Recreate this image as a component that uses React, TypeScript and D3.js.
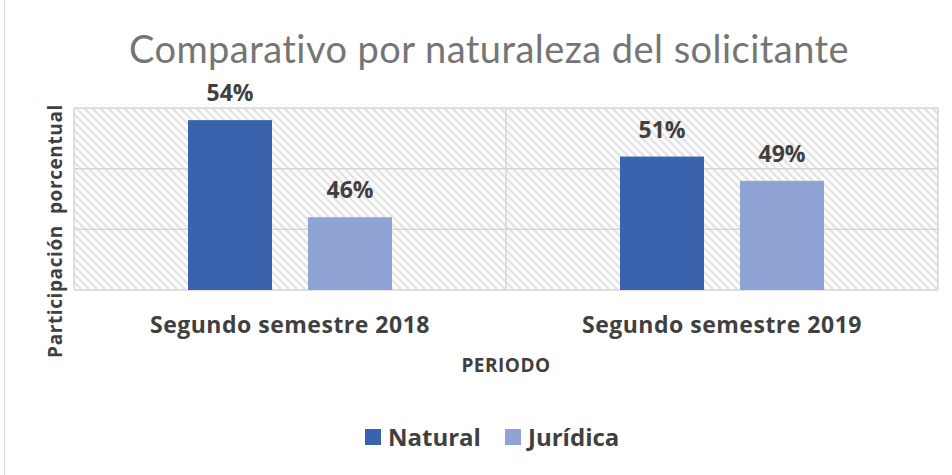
import React, { useEffect, useRef } from 'react';
import * as d3 from 'd3';

const periods = ['Segundo semestre 2018', 'Segundo semestre 2019'];
const seriesNames = ['Natural', 'Jurídica'];
const natural = [0.54, 0.51];
const juridica = [0.46, 0.49];
const yTicks = [0.4, 0.45, 0.5, 0.55];
const colors = ['#3a62ad', '#8fa3d5'];

const W = 952;
const H = 475;
const margin = { left: 74, right: 14, top: 108, bottom: 185 };
const textColor = '#404040';
const boldFont = '"Open Sans", Lato, sans-serif';
const titleFont = 'Lato, "Open Sans", sans-serif';

export default function App() {
  const ref = useRef<SVGSVGElement>(null);

  useEffect(() => {
    const svg = d3.select(ref.current);
    svg.selectAll('*').remove();

    const x0 = d3.scaleBand().domain(periods).range([margin.left, W - margin.right]);
    const x1 = d3.scaleBand().domain(seriesNames).range([0, x0.bandwidth()]).paddingInner(0.3).paddingOuter(0.95);
    const y = d3.scaleLinear().domain([0.4, 0.55]).range([H - margin.bottom, margin.top]);

    const defs = svg.append('defs');
    const pat = defs.append('pattern')
      .attr('id', 'hatch')
      .attr('patternUnits', 'userSpaceOnUse')
      .attr('width', 8)
      .attr('height', 8);
    pat.append('rect').attr('width', 8).attr('height', 8).attr('fill', '#fcfcfc');
    pat.append('path')
      .attr('d', 'M-2,-2 L10,10 M-2,6 L2,10 M6,-2 L10,2')
      .attr('stroke', '#e2e2e2')
      .attr('stroke-width', 2);

    // outer border line on the left
    svg.append('line')
      .attr('x1', 4.5).attr('x2', 4.5).attr('y1', 0).attr('y2', H)
      .attr('stroke', '#d9d9d9');

    // plot background
    svg.append('rect')
      .attr('x', margin.left)
      .attr('y', margin.top)
      .attr('width', W - margin.left - margin.right)
      .attr('height', H - margin.top - margin.bottom)
      .attr('fill', 'url(#hatch)');

    // gridlines
    svg.append('g')
      .selectAll('line')
      .data(yTicks)
      .join('line')
      .attr('x1', margin.left)
      .attr('x2', W - margin.right)
      .attr('y1', (d) => y(d))
      .attr('y2', (d) => y(d))
      .attr('stroke', '#d6d6d6')
      .attr('stroke-width', 1.5);

    // vertical borders / separators
    const vx = [margin.left, x0(periods[1]) as number, W - margin.right];
    svg.append('g')
      .selectAll('line')
      .data(vx)
      .join('line')
      .attr('x1', (d) => d)
      .attr('x2', (d) => d)
      .attr('y1', margin.top)
      .attr('y2', H - margin.bottom)
      .attr('stroke', '#d6d6d6')
      .attr('stroke-width', 1.5);

    const rows = periods.map((p, i) => ({ p, vals: [natural[i], juridica[i]] }));

    const groups = svg.append('g')
      .selectAll('g')
      .data(rows)
      .join('g')
      .attr('transform', (d) => `translate(${x0(d.p)},0)`);

    groups.selectAll('rect')
      .data((d) => d.vals.map((v, j) => ({ v, s: seriesNames[j], j })))
      .join('rect')
      .attr('x', (d) => x1(d.s) as number)
      .attr('width', x1.bandwidth())
      .attr('y', (d) => y(d.v))
      .attr('height', (d) => y(0.4) - y(d.v))
      .attr('fill', (d) => colors[d.j]);

    groups.selectAll('text.val')
      .data((d) => d.vals.map((v, j) => ({ v, s: seriesNames[j] })))
      .join('text')
      .attr('class', 'val')
      .attr('x', (d) => (x1(d.s) as number) + x1.bandwidth() / 2)
      .attr('y', (d) => y(d.v) - 19)
      .attr('text-anchor', 'middle')
      .attr('font-family', boldFont)
      .attr('font-weight', 'bold')
      .attr('font-size', 23)
      .attr('fill', textColor)
      .text((d) => d3.format('.0%')(d.v));

    // category labels
    svg.append('g')
      .selectAll('text')
      .data(periods)
      .join('text')
      .attr('x', (d) => (x0(d) as number) + x0.bandwidth() / 2)
      .attr('y', 333)
      .attr('text-anchor', 'middle')
      .attr('font-family', boldFont)
      .attr('font-weight', 'bold')
      .attr('font-size', 23)
      .attr('letter-spacing', 0.5)
      .attr('fill', textColor)
      .text((d) => d);

    // x title
    svg.append('text')
      .attr('x', 506)
      .attr('y', 372)
      .attr('text-anchor', 'middle')
      .attr('font-family', boldFont)
      .attr('font-weight', 'bold')
      .attr('font-size', 19)
      .attr('letter-spacing', 0.5)
      .attr('fill', textColor)
      .text('PERIODO');

    // y title
    svg.append('text')
      .attr('transform', 'translate(62,231) rotate(-90)')
      .attr('text-anchor', 'middle')
      .attr('font-family', boldFont)
      .attr('font-weight', 'bold')
      .attr('font-size', 19)
      .attr('letter-spacing', 0.6)
      .attr('fill', textColor)
      .attr('xml:space', 'preserve')
      .text('Participación  porcentual');

    // chart title
    svg.append('text')
      .attr('x', 489)
      .attr('y', 63)
      .attr('text-anchor', 'middle')
      .attr('font-family', titleFont)
      .attr('font-size', 38)
      .attr('letter-spacing', 0.45)
      .attr('fill', '#757575')
      .text('Comparativo por naturaleza del solicitante');

    // legend
    const legendX = [365, 505];
    const lg = svg.append('g')
      .selectAll('g')
      .data(seriesNames)
      .join('g')
      .attr('transform', (d, i) => `translate(${legendX[i]},429)`);
    lg.append('rect')
      .attr('width', 16)
      .attr('height', 16)
      .attr('fill', (d, i) => colors[i]);
    lg.append('text')
      .attr('x', 23)
      .attr('y', 17)
      .attr('font-family', boldFont)
      .attr('font-weight', 'bold')
      .attr('font-size', 24)
      .attr('fill', textColor)
      .text((d) => d);
  }, []);

  return (
    <svg ref={ref} width={W} height={H} style={{ position: 'absolute', left: 0, top: 0, background: '#fff' }} />
  );
}
